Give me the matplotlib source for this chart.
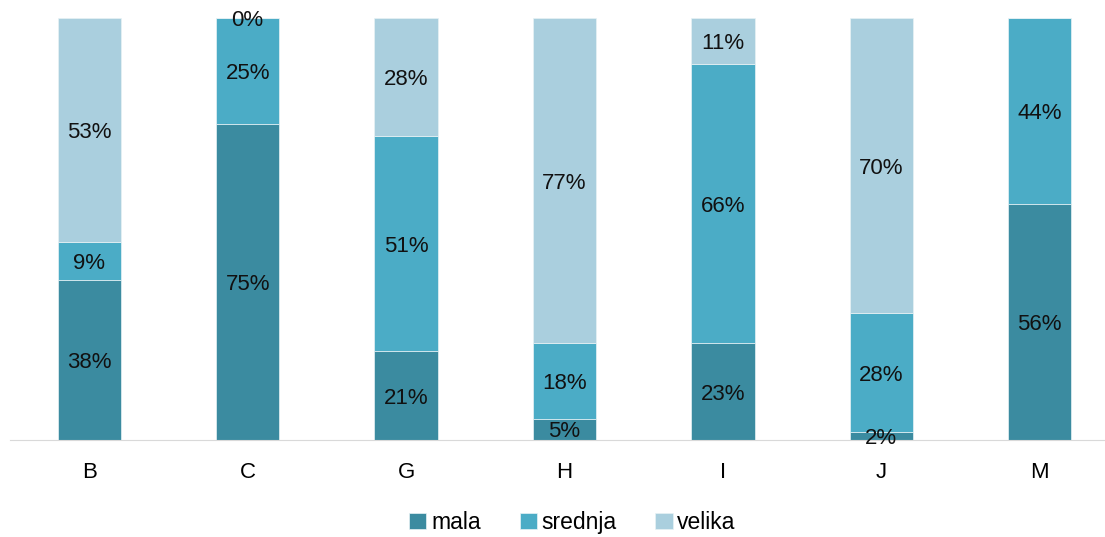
import matplotlib.pyplot as plt

plt.rcParams['font.family'] = ['Liberation Sans', 'DejaVu Sans']

categories = ['B', 'C', 'G', 'H', 'I', 'J', 'M']
mala = [38, 75, 21, 5, 23, 2, 56]
srednja = [9, 25, 51, 18, 66, 28, 44]
velika = [53, 0, 28, 77, 11, 70, None]

colors = {'mala': '#3B8BA0', 'srednja': '#4BACC6', 'velika': '#AACFDE'}

fig = plt.figure(figsize=(11.05, 5.37), dpi=100)
ax = fig.add_axes([10 / 1105, 97 / 537, 1109 / 1105, 422 / 537])

x = list(range(len(categories)))
bottom = [0] * len(categories)
for name, vals in [('mala', mala), ('srednja', srednja), ('velika', velika)]:
    heights = [v if v is not None else 0 for v in vals]
    ax.bar(x, heights, width=0.4, bottom=bottom, color=colors[name],
           edgecolor='#E8F2F5', linewidth=0.5, label=name)
    for i, v in enumerate(vals):
        if v is None:
            continue
        y = bottom[i] + v / 2 - 0.6
        ax.text(i, y, f'{v}%', ha='center', va='center', fontsize=16, color='#111111')
    bottom = [b + h for b, h in zip(bottom, heights)]

ax.set_xlim(-0.5, 6.5)
ax.set_ylim(0, 100)
ax.set_xticks(x)
ax.set_xticklabels(categories, fontsize=16)
ax.tick_params(axis='x', length=0, pad=16)
ax.set_yticks([])
for s in ['top', 'right', 'left']:
    ax.spines[s].set_visible(False)
ax.spines['bottom'].set_color('#D9D9D9')

fig.legend(loc='lower center', bbox_to_anchor=(0.518, -0.033), ncol=3, frameon=False,
           fontsize=16.5, handlelength=0.75, handleheight=0.75, handletextpad=0.2,
           columnspacing=1.7)

fig.savefig('out.png', dpi=100)
